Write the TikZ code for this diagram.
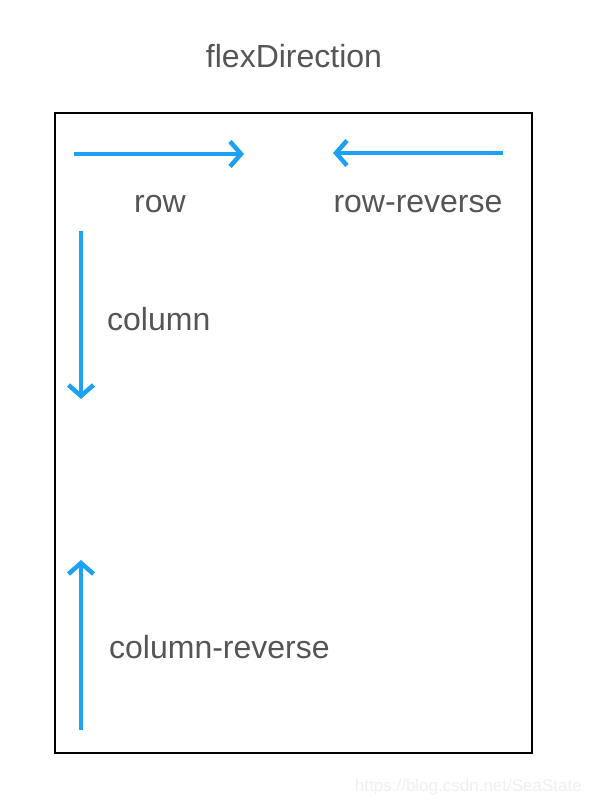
\documentclass[tikz,border=0pt]{standalone}
\usepackage{fontspec}
\setmainfont{Liberation Sans}
\usetikzlibrary{arrows.meta}
\definecolor{arrowblue}{HTML}{1DA1F5}
\definecolor{textgray}{HTML}{555555}
\definecolor{wmgray}{HTML}{F0F0F0}
\begin{document}
\begin{tikzpicture}[x=1pt,y=-1pt,
  dirarrow/.style={draw=arrowblue,line width=4.5pt,-{Straight Barb[length=11pt,width=25pt,line width=4.5pt]}},
  lbl/.style={text=textgray,font=\fontsize{32}{38}\selectfont,inner sep=0pt},
  frame/.style={draw=black,line width=2.5pt}]
\useasboundingbox (0,0) rectangle (590,806);
\node[lbl] (title) at (294,56) {flexDirection};
\draw[frame] (55,113) rectangle (532,753);
\coordinate (r1) at (74,154);
\coordinate (r2) at (244,154);
\draw[dirarrow] (r1) -- (r2);
\coordinate (rr1) at (503,153);
\coordinate (rr2) at (333,153);
\draw[dirarrow] (rr1) -- (rr2);
\coordinate (c1) at (81,231);
\coordinate (c2) at (81,399);
\draw[dirarrow] (c1) -- (c2);
\coordinate (cr1) at (81,730);
\coordinate (cr2) at (81,560);
\draw[dirarrow] (cr1) -- (cr2);
\node[lbl] (row) at (160,204) {row};
\node[lbl] (rowrev) at (418,204) {row-reverse};
\node[lbl,anchor=west] (col) at (107,319) {column};
\node[lbl,anchor=west] (colrev) at (109,647) {column-reverse};
\node[text=wmgray,font=\fontsize{17}{20}\selectfont,inner sep=0pt,anchor=east] (wm) at (582,787) {https://blog.csdn.net/SeaState};
\end{tikzpicture}
\end{document}
